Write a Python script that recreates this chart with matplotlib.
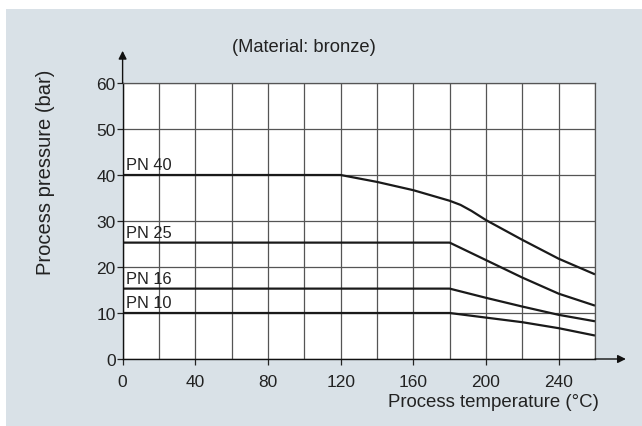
import matplotlib
matplotlib.use("Agg")
from matplotlib import pyplot as plt
from matplotlib.patches import Rectangle

plt.rcParams['font.family'] = ['Liberation Sans', 'DejaVu Sans']

# Werte
t_pn40 = [0, 120, 140, 160, 180, 186, 192, 200, 220, 240, 260]
p_pn40 = [40, 40, 38.5, 36.7, 34.4, 33.5, 32.2, 30.2, 25.9, 21.8, 18.4]

t_pn25 = [0, 180, 200, 220, 240, 260]
p_pn25 = [25.3, 25.3, 21.5, 17.7, 14.2, 11.6]

t_pn16 = [0, 180, 200, 220, 240, 260]
p_pn16 = [15.3, 15.3, 13.3, 11.4, 9.6, 8.2]

t_pn10 = [0, 180, 200, 220, 240, 260]
p_pn10 = [10, 10, 9.0, 8.0, 6.7, 5.1]

names = ["PN 40", "PN 25", "PN 16", "PN 10"]
series = [(t_pn40, p_pn40), (t_pn25, p_pn25), (t_pn16, p_pn16), (t_pn10, p_pn10)]

x_ticks = [0, 40, 80, 120, 160, 200, 240]
y_ticks = [0, 10, 20, 30, 40, 50, 60]

W, H = 642, 427
fig = plt.figure(figsize=(W / 100, H / 100), dpi=100)
fig.patch.set_facecolor("white")
fig.patches.append(Rectangle((6 / W, 0), 1, (H - 10) / H, transform=fig.transFigure,
                             facecolor="#d9e1e7", edgecolor="none", zorder=-10))

ax = fig.add_axes([122.6 / W, (H - 360) / H, (595 - 122.6) / W, (360 - 84) / H])
ax.set_facecolor("white")
ax.set_xlim(0, 260)
ax.set_ylim(0, 60)

# Gitter
ax.set_xticks(x_ticks)
ax.set_xticks(range(0, 261, 20), minor=True)
ax.set_yticks(y_ticks)
ax.grid(which="both", color="#555555", linewidth=0.9)
ax.set_axisbelow(True)
ax.tick_params(which="minor", length=0)
ax.tick_params(axis="y", length=4, width=0.9, pad=1, labelsize=12.5, colors="#222222")
ax.tick_params(axis="x", length=4, width=0.9, pad=7, labelsize=12.5, colors="#222222")

for s in ["top", "right"]:
    ax.spines[s].set_color("#555555")
    ax.spines[s].set_linewidth(0.9)
for s in ["left", "bottom"]:
    ax.spines[s].set_color("#111111")
    ax.spines[s].set_linewidth(1.0)

for (t, p), name in zip(series, names):
    ax.plot(t, p, color="#1a1a1a", linewidth=1.6, solid_capstyle="butt")
    ax.text(2.0, p[0] + 0.55, name, fontsize=11.8, color="#222222", ha="left", va="bottom")

# Pfeile an den Achsen
ax.annotate("", xy=(0, 67), xytext=(0, 60), annotation_clip=False,
            arrowprops=dict(arrowstyle="-|>", color="#111111", lw=1.0,
                            mutation_scale=12, shrinkA=0, shrinkB=0))
ax.annotate("", xy=(277, 0), xytext=(260, 0), annotation_clip=False,
            arrowprops=dict(arrowstyle="-|>", color="#111111", lw=1.0,
                            mutation_scale=12, shrinkA=0, shrinkB=0))

fig.text(304 / W, 1 - 48 / H, "(Material: bronze)", fontsize=13.2, color="#222222",
         ha="center", va="center")
fig.text(599 / W, 1 - 403 / H, "Process temperature (°C)", fontsize=13.4, color="#222222",
         ha="right", va="center")
fig.text(46 / W, 1 - 172 / H, "Process pressure (bar)", fontsize=14.5, color="#222222",
         ha="center", va="center", rotation=90)

fig.savefig("out.png", dpi=100)
